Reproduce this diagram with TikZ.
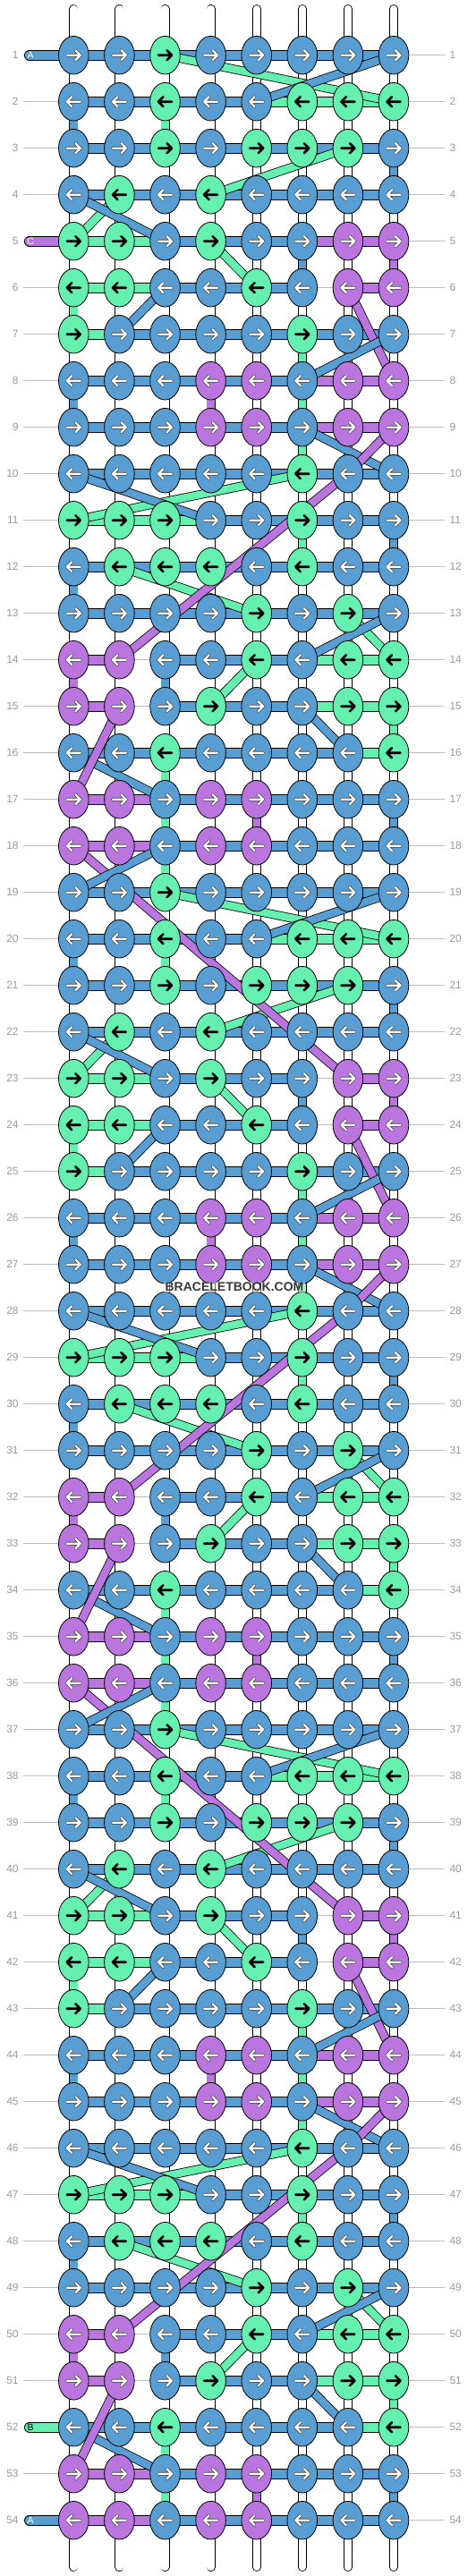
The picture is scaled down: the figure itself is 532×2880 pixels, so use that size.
\documentclass[tikz,border=0pt]{standalone}
\usepackage{fontspec}
\setmainfont{Liberation Sans}
\usetikzlibrary{shapes.geometric}
\definecolor{cB}{HTML}{589ED2}
\definecolor{cG}{HTML}{66F0B0}
\definecolor{cP}{HTML}{BA75DE}
\definecolor{cw}{HTML}{FFFFFF}
\definecolor{numgray}{HTML}{9A9A9A}
\definecolor{linegray}{HTML}{BDBDBD}
\pgfdeclarelayer{strings}
\pgfdeclarelayer{bars}
\pgfdeclarelayer{vsegs}
\pgfdeclarelayer{diags}
\pgfsetlayers{strings,bars,vsegs,diags,main}
\tikzset{
  knot/.style={ellipse, draw=black, line width=0.8pt, minimum width=33.6pt, minimum height=42.6pt, inner sep=0pt},
  hbar/.style={draw=black, line width=0.8pt, double=#1, double distance=10.4pt},
  vthread/.style={draw=black, line width=0.8pt, double=#1, double distance=8.4pt},
  dthread/.style={draw=black, line width=0.8pt, double=#1, double distance=8.4pt, line join=round},
  rowline/.style={draw=linegray, line width=1pt},
  numlab/.style={text=numgray, font=\fontsize{12}{14}\selectfont, inner sep=0pt},
  pilllab/.style={font=\fontsize{10.5}{12}\selectfont, inner sep=0pt},
  arrowhalo/.style={draw=black!75, line width=3.6pt, line cap=round, line join=round},
  arrowwhite/.style={draw=white, line width=2.2pt, line cap=round, line join=round},
  arrowblack/.style={draw=black, line width=2.6pt, line cap=round, line join=round},
}
\def\patdata{%
1/{B,B,G,B,B,B,B,B}/{B,B,B,B,B,B,B}/{w,w,w,w,w,w,w,w},%
2/{B,B,G,B,B,G,G,G}/{B,B,B,B,G,G,G}/{B,w,G,w,w,w,w,w},%
3/{B,B,G,B,G,G,G,B}/{B,B,B,B,B,B,B}/{w,w,w,w,w,w,w,B},%
4/{B,G,B,G,B,B,B,B}/{B,B,B,B,B,B,B}/{w,w,w,w,w,w,w,w},%
5/{G,G,B,G,B,B,P,P}/{G,G,B,B,B,n,P}/{w,w,w,w,w,B,w,P},%
6/{G,G,B,B,G,B,P,P}/{G,G,B,B,B,n,P}/{G,w,w,w,w,w,w,w},%
7/{G,B,B,B,B,G,B,B}/{G,B,B,B,B,B,B}/{w,w,w,w,w,G,w,w},%
8/{B,B,B,P,P,B,P,P}/{B,B,B,B,B,P,P}/{B,w,w,P,w,G,w,w},%
9/{B,B,B,P,P,B,P,P}/{B,B,B,B,B,P,P}/{w,w,w,w,w,G,w,w},%
10/{B,B,B,B,B,G,B,B}/{B,B,B,B,B,B,B}/{w,w,w,w,w,w,w,w},%
11/{G,G,G,B,B,G,B,B}/{G,G,G,B,B,B,B}/{w,w,w,w,w,G,w,B},%
12/{B,G,G,G,B,G,B,B}/{B,B,B,B,B,B,B}/{B,w,w,w,w,w,w,w},%
13/{B,B,B,B,G,B,G,B}/{B,B,B,B,B,B,B}/{w,w,w,w,w,w,w,w},%
14/{P,P,B,B,G,B,G,G}/{P,n,B,B,B,G,G}/{P,w,B,w,w,w,w,w},%
15/{P,P,B,G,B,B,G,G}/{P,n,B,B,B,G,G}/{w,w,w,w,w,w,w,G},%
16/{B,B,G,B,B,B,B,G}/{B,B,B,B,B,B,G}/{w,w,G,w,w,w,w,w},%
17/{P,P,B,P,P,B,B,B}/{P,P,B,B,B,B,B}/{w,w,G,w,P,w,w,B},%
18/{P,P,B,P,P,B,B,B}/{P,P,B,B,B,B,B}/{w,w,G,w,w,w,w,w}%
}
\begin{document}
\begin{tikzpicture}[x=1pt,y=-1pt]
\useasboundingbox (0,0) rectangle (532,2880);
% vertical background strings
\foreach \ci in {1,...,8}{
  \pgfmathsetmacro\xx{82.3+51.1*(\ci-1)}
  \coordinate (top-\ci) at (\xx,10);
  \coordinate (bot-\ci) at (\xx,2870);
  \begin{pgfonlayer}{strings}
    \draw[vthread=white, line cap=round] (top-\ci) -- (bot-\ci);
  \end{pgfonlayer}
}
% row guide lines and numbers
\foreach \ri in {1,...,54}{
  \pgfmathsetmacro\yy{61.7+52*(\ri-1)}
  \coordinate (rl-\ri) at (26,\yy);
  \coordinate (rr-\ri) at (497,\yy);
  \begin{pgfonlayer}{strings}
    \draw[rowline] (rl-\ri) -- (rr-\ri);
  \end{pgfonlayer}
  \node[numlab, anchor=east] (nl-\ri) at (20.8,\yy) {\ri};
  \node[numlab, anchor=west] (nr-\ri) at (502.3,\yy) {\ri};
}
% knots
\foreach \off in {0,18,36}{
  \foreach \pp/\Kd/\Hd/\Vd in \patdata {
    \pgfmathtruncatemacro\ri{\off+\pp}
    \pgfmathsetmacro\yy{61.7+52*(\ri-1)}
    \pgfmathsetmacro\dir{ifthenelse(mod(\ri,2)==1,1,-1)}
    \foreach \col [count=\ci] in \Kd {
      \pgfmathsetmacro\xx{82.3+51.1*(\ci-1)}
      \node[knot, fill=c\col] (k-\ri-\ci) at (\xx,\yy) {};
      \if\col G
        \draw[arrowblack] ({\xx-7.5*\dir},\yy) -- ({\xx+7.5*\dir},\yy)
          ({\xx+2*\dir},{\yy-5.5}) -- ({\xx+7.5*\dir},\yy) -- ({\xx+2*\dir},{\yy+5.5});
      \else
        \draw[arrowhalo] ({\xx-7.5*\dir},\yy) -- ({\xx+7.5*\dir},\yy)
          ({\xx+2*\dir},{\yy-5.5}) -- ({\xx+7.5*\dir},\yy) -- ({\xx+2*\dir},{\yy+5.5});
        \draw[arrowwhite] ({\xx-7.5*\dir},\yy) -- ({\xx+7.5*\dir},\yy)
          ({\xx+2*\dir},{\yy-5.5}) -- ({\xx+7.5*\dir},\yy) -- ({\xx+2*\dir},{\yy+5.5});
      \fi
    }
  }
}
% horizontal bars
\begin{pgfonlayer}{bars}
\foreach \off in {0,18,36}{
  \foreach \pp/\Kd/\Hd/\Vd in \patdata {
    \pgfmathtruncatemacro\ri{\off+\pp}
    \foreach \h [count=\ci] in \Hd {
      \pgfmathtruncatemacro\cn{\ci+1}
      \edef\hh{\h}
      \ifnum\ri=5 \ifnum\ci=6 \def\hh{P}\fi\fi
      \if\hh n\else
        \draw[hbar=c\hh] (k-\ri-\ci.center) -- (k-\ri-\cn.center);
      \fi
    }
  }
}
\end{pgfonlayer}
% vertical coloured segments
\begin{pgfonlayer}{vsegs}
\foreach \off in {0,18,36}{
  \foreach \pp/\Kd/\Hd/\Vd in \patdata {
    \pgfmathtruncatemacro\ri{\off+\pp}
    \pgfmathtruncatemacro\rn{\ri+1}
    \ifnum\ri<54
      \foreach \v [count=\ci] in \Vd {
        \if\v w\else
          \draw[vthread=c\v] (k-\ri-\ci.center) -- (k-\rn-\ci.center);
        \fi
      }
    \fi
  }
}
\end{pgfonlayer}
% diagonal threads
\begin{pgfonlayer}{diags}
\foreach \off in {0,18,36}{
  \foreach \cl/\ra/\ca/\rb/\cb in {G/1/3/2/8, B/2/5/1/8, G/3/7/4/4, G/5/1/4/2, B/4/1/5/3, G/5/4/6/5, B/6/3/7/2, P/6/7/8/8, B/7/8/8/6, B/9/6/10/8, G/10/6/11/1, B/10/1/11/4, G/12/2/13/5}{
    \pgfmathtruncatemacro\rA{\off+\ra}
    \pgfmathtruncatemacro\rB{\off+\rb}
    \draw[dthread=c\cl] (k-\rA-\ca.center) -- (k-\rB-\cb.center);
  }
  \pgfmathtruncatemacro\rA{\off+9}
  \pgfmathtruncatemacro\rB{\off+10}
  \pgfmathtruncatemacro\rC{\off+14}
  \draw[dthread=cP] (k-\rA-8.center) -- (k-\rB-7.center) -- (k-\rC-2.center);
  \foreach \cl/\ra/\ca/\rb/\cb in {G/13/7/14/8, B/13/8/14/6, G/14/5/15/4, B/15/6/16/7, B/16/1/17/3, P/15/2/17/1}{
    \pgfmathtruncatemacro\rA{\off+\ra}
    \pgfmathtruncatemacro\rB{\off+\rb}
    \draw[dthread=c\cl] (k-\rA-\ca.center) -- (k-\rB-\cb.center);
  }
}
\foreach \off in {0,18}{
  \pgfmathtruncatemacro\rA{\off+18}
  \pgfmathtruncatemacro\rB{\off+23}
  \draw[dthread=cP] (k-\rA-1.center) -- (k-\rB-7.center);
}
\foreach \off in {0,18}{
  \pgfmathtruncatemacro\rA{\off+19}
  \pgfmathtruncatemacro\rB{\off+18}
  \draw[dthread=cB] (k-\rA-1.center) -- (k-\rB-3.center);
}
\end{pgfonlayer}
% string-end pills
\foreach \ri/\pc/\lbl/\tc in {1/cB/A/white, 5/cP/C/white, 52/cG/B/black, 54/cB/A/white}{
  \pgfmathsetmacro\yy{61.7+52*(\ri-1)}
  \coordinate (pl-\ri) at (33,\yy);
  \begin{pgfonlayer}{bars}
    \draw[hbar=\pc, line cap=round] (pl-\ri) -- (k-\ri-1.center);
  \end{pgfonlayer}
  \node[pilllab, text=\tc] (lab-\ri) at (34.2,\yy) {\lbl};
}
% watermark
\node[font=\bfseries\fontsize{14}{16}\selectfont, text=black!78, inner sep=1.5pt, fill=white, fill opacity=0.4, text opacity=1] (wm) at (262,1439) {BRACELETBOOK.COM};
\end{tikzpicture}
\end{document}
